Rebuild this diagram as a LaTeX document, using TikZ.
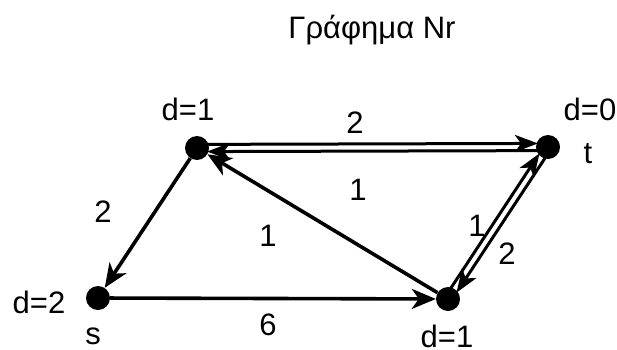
\documentclass[tikz,border=0pt]{standalone}
\usepackage{fontspec}
\setmainfont{Liberation Sans}
\usetikzlibrary{arrows.meta,calc}
\begin{document}
\begin{tikzpicture}[x=1pt,y=1pt,
  vert/.style={circle,fill=black,minimum size=24pt,inner sep=0pt},
  lbl/.style={font=\fontsize{31}{33}\selectfont,inner sep=0pt,anchor=base},
  edge/.style={line width=3.6pt,-{Stealth[length=24pt,width=20pt,inset=7pt]}},
  pedge/.style={line width=3pt,-{Stealth[length=23pt,width=17pt,inset=6pt]},shorten <=10pt,shorten >=10pt},
]
\useasboundingbox (0,0) rectangle (617,349);
\node[vert] (A) at (197,201) {};
\node[vert] (T) at (548,202) {};
\node[vert] (S) at (98,51) {};
\node[vert] (B) at (448,50) {};
% title
\node[lbl] (title) at (372,311) {Γράφημα Nr};
% vertex labels
\node[lbl] (dA) at (188,229) {d=1};
\node[lbl] (dT) at (590,229) {d=0};
\node[lbl] (lt) at (588,186) {t};
\node[lbl] (dS) at (39,36) {d=2};
\node[lbl] (ls) at (93,5) {s};
\node[lbl] (dB) at (447,2) {d=1};
% weights
\node[lbl] (w1) at (355,216) {2};
\node[lbl] (w2) at (358,149) {1};
\node[lbl] (w3) at (103,127) {2};
\node[lbl] (w4) at (268,103) {1};
\node[lbl] (w5) at (268,14) {6};
\node[lbl] (w6) at (477,113) {1};
\node[lbl] (w7) at (507,85) {2};
% single edges
\draw[edge] (A) -- (S);
\draw[edge] (S) -- (B);
\draw[edge] (B) -- (A);
% parallel edges A-T
\draw[pedge] ($(A)!3.6pt!90:(T)$) -- ($(T)!3.6pt!-90:(A)$);
\draw[pedge] ($(T)!3.6pt!90:(A)$) -- ($(A)!3.6pt!-90:(T)$);
% parallel edges T-B
\draw[pedge] ($(B)!3.6pt!90:(T)$) -- ($(T)!3.6pt!-90:(B)$);
\draw[pedge] ($(T)!3.6pt!90:(B)$) -- ($(B)!3.6pt!-90:(T)$);
\end{tikzpicture}
\end{document}
